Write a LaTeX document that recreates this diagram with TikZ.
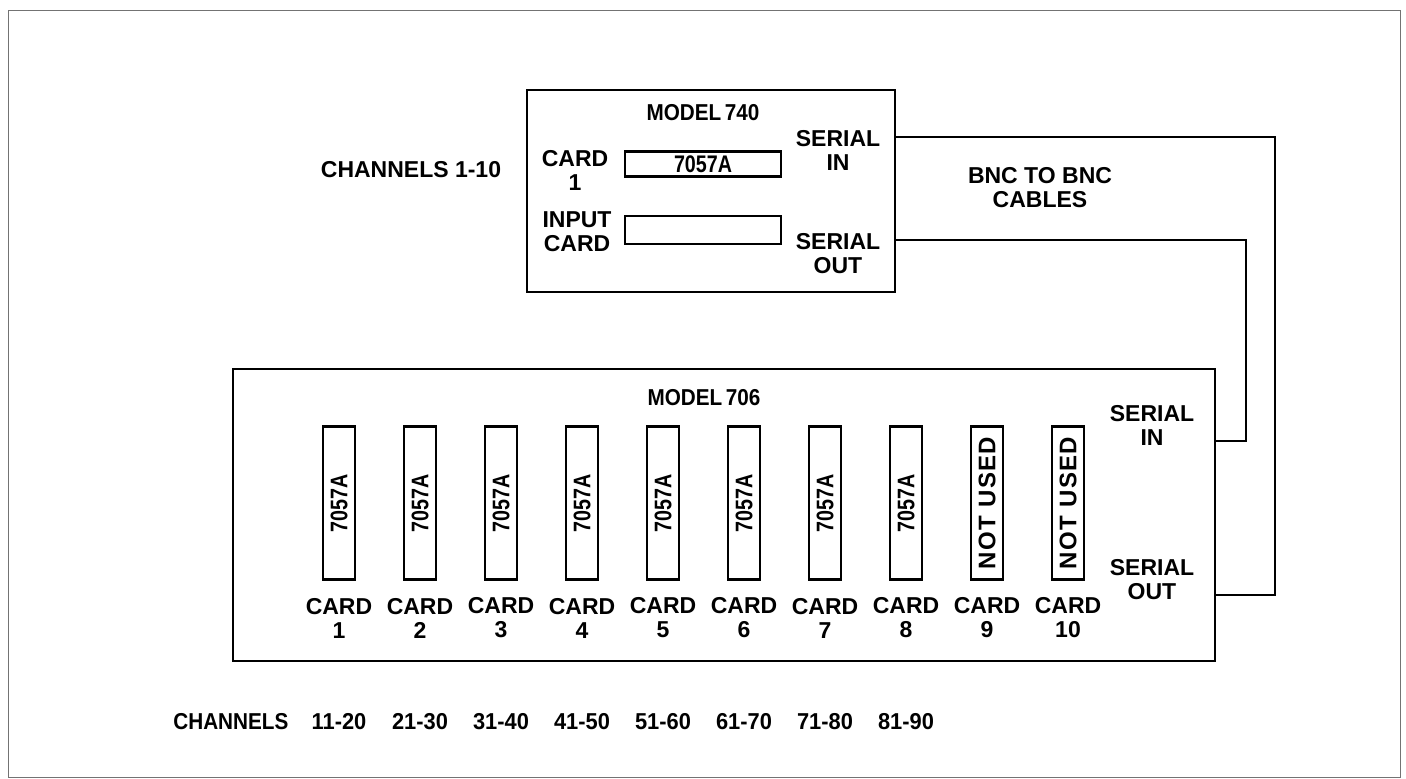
\documentclass[tikz,border=0pt]{standalone}
\usepackage{fontspec}
\setmainfont{Liberation Sans}
\newcommand{\lblfont}{\fontsize{11.5}{12}\selectfont\bfseries}
\newcommand{\slotfont}{\fontsize{12}{12}\selectfont\bfseries}
\newcommand{\narrow}[2][0.82]{\scalebox{#1}[1]{#2}}
\tikzset{
  unit/.style={draw, line width=1.3pt, inner sep=0pt},
  slot/.style={draw, line width=1.1pt, inner sep=0pt, rotate=90, minimum width=76.5pt, minimum height=16pt, font=\slotfont},
  lbl/.style={font=\lblfont, align=center, inner sep=0pt},
  cable/.style={line width=0.9pt},
  frame/.style={draw=black!55, line width=0.5pt}
}
\begin{document}
\begin{tikzpicture}[x=0.5pt,y=-0.5pt]
\useasboundingbox (0,0) rectangle (1406,778);
\draw[frame] (8,10) rectangle (1400,777);
% model 740
\node[unit, minimum width=184pt, minimum height=101pt] (m740) at (711,191) {};
\node[lbl] (t740) at (703,113) {\narrow[0.9]{MODEL\,740}};
\node[unit, line width=1.1pt, minimum width=78pt, minimum height=12.5pt, font=\slotfont] (c740) at (703,164) {\narrow{7057A}};
\node[unit, line width=1.1pt, minimum width=78pt, minimum height=14pt] (ic740) at (703,230) {};
\node[lbl] (lc740) at (575,170) {CARD\\1};
\node[lbl] (li740) at (577,232) {INPUT\\CARD};
\node[lbl] (si740) at (838,150) {SERIAL\\IN};
\node[lbl] (so740) at (838,254) {SERIAL\\OUT};
\node[lbl] (ch740) at (411,170) {CHANNELS 1-10};
\node[lbl] (bnc) at (1040,188) {BNC TO BNC\\CABLES};
% model 706
\node[unit, minimum width=491pt, minimum height=146pt] (m706) at (724,515) {};
\node[lbl] (t706) at (704,398) {\narrow[0.9]{MODEL\,706}};
\node[lbl] (si706) at (1152,425) {SERIAL\\IN};
\node[lbl] (so706) at (1152,580) {SERIAL\\OUT};
\foreach \i/\t in {1/\narrow{7057A},2/\narrow{7057A},3/\narrow{7057A},4/\narrow{7057A},5/\narrow{7057A},6/\narrow{7057A},7/\narrow{7057A},8/\narrow{7057A},9/{\addfontfeature{LetterSpace=6}NOT USED},10/{\addfontfeature{LetterSpace=6}NOT USED}} {
  \node[slot] (s\i) at ({258+81*\i},503) {\t};
  \node[lbl] (k\i) at ({258+81*\i},618) {CARD\\\i};
}
% channels
\node[lbl, anchor=west] (chl) at (173,722) {\narrow[0.9]{CHANNELS}};
\foreach \i/\r in {1/11-20,2/21-30,3/31-40,4/41-50,5/51-60,6/61-70,7/71-80,8/81-90}
  \node[lbl] (ch\i) at ({258+81*\i},722) {\narrow[0.95]{\r}};
% cables
\coordinate (in740) at (895,137);
\coordinate (out740) at (895,240);
\coordinate (in706) at (1215,441);
\coordinate (out706) at (1215,595);
\draw[cable] (in740) -- ++(380,0) |- (out706);
\draw[cable] (out740) -- ++(351,0) |- (in706);
\end{tikzpicture}
\end{document}
